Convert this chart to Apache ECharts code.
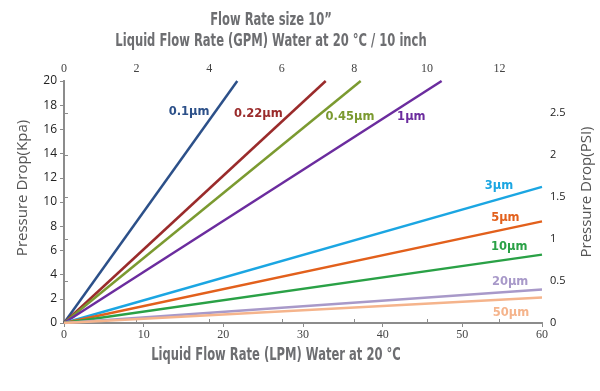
<!DOCTYPE html>
<html>
<head>
<meta charset="utf-8">
<script src="https://cdn.jsdelivr.net/npm/echarts@6/dist/echarts.min.js"></script>
<style>html,body{margin:0;padding:0;background:#fff}#c{width:600px;height:391px}</style>
</head>
<body>
<div id="c"></div>
<script>
// Filter grades
var names = ['0.1μm','0.22μm','0.45μm','1μm','3μm','5μm','10μm','20μm','50μm'];
// End point of each straight line [LPM, kPa]; all start at origin
var endLPM = [21.75, 32.85, 37.24, 47.4, 60, 60, 60, 60, 60];
var endKPa = [20, 20, 20, 20, 11.25, 8.4, 5.65, 2.76, 2.1];
// Label anchor positions in data units [LPM, kPa]
var labelLPM = [15.7, 24.4, 35.9, 43.6, 54.6, 55.4, 55.9, 56.0, 56.1];
var labelKPa = [17.4, 17.25, 17.0, 17.0, 11.3, 8.66, 6.26, 3.36, 0.8];
var colors = ['#2c5089','#9a2b2b','#7b9a30','#6b2c9e','#1ba6e2','#e2601c','#2aa146','#a899c9','#f5b48c'];
// Axis ranges
var lpmMax = 60, lpmStep = 10;
var gpmMax = 13.17, gpmStep = 2;
var kpaMax = 20, kpaStep = 2;
var psiMax = 2.884, psiStep = 0.5;
var titleLines = ['Flow Rate size 10”', 'Liquid Flow Rate (GPM) Water at 20 °C / 10 inch'];
var bottomTitle = 'Liquid Flow Rate (LPM) Water at 20 °C';

var axisGrey = '#8c8c8c';
var titleFont = 'bold 17px "DejaVu Sans", sans-serif';
var series = names.map(function(n, i){
  return {
    name: n, type: 'line', xAxisIndex: 0, yAxisIndex: 0,
    data: [[0,0],[endLPM[i], endKPa[i]]],
    symbol: 'none', clip: true,
    lineStyle: {color: colors[i], width: 2.5},
    markPoint: {
      symbol: 'circle', symbolSize: 0,
      data: [{coord: [labelLPM[i], labelKPa[i]]}],
      label: {show: true, position: 'inside', formatter: n, color: colors[i],
        fontFamily: 'DejaVu Sans', fontWeight: 'bold', fontSize: 11.5}
    }
  };
});
// dummy series to activate secondary axes
series.push({type:'line', xAxisIndex:1, yAxisIndex:1, data:[], symbol:'none'});

function titleText(txt, x, y){
  return {type:'text', x:x, y:y, scaleX:0.68, silent:true,
    style:{text:txt, x:0, y:0, textAlign:'center', textVerticalAlign:'middle', font:titleFont, fill:'#6d6e71'}};
}

var chart = echarts.init(document.getElementById('c'), null, {renderer:'canvas'});
chart.setOption({
  animation: false,
  backgroundColor: '#fff',
  graphic: [
    titleText(titleLines[0], 271, 21),
    titleText(titleLines[1], 271, 42),
    titleText(bottomTitle, 276, 356)
  ],
  grid: {left: 64, right: 58, top: 81, bottom: 68, containLabel: false, outerBoundsMode: 'none'},
  xAxis: [
    {type: 'value', position: 'bottom', min: 0, max: lpmMax, interval: lpmStep,
     axisLine: {show: true, lineStyle: {color: axisGrey, width: 2}},
     axisTick: {show: true, length: 4, lineStyle: {color: axisGrey}},
     splitLine: {show: false},
     axisLabel: {fontFamily: 'Liberation Serif, serif', fontSize: 12, color: '#444', margin: 6}},
    {type: 'value', position: 'top', min: 0, max: gpmMax, interval: gpmStep,
     axisLine: {show: true, lineStyle: {color: axisGrey, width: 2}},
     axisTick: {show: true, length: 4, lineStyle: {color: axisGrey}},
     splitLine: {show: false},
     axisLabel: {fontFamily: 'Liberation Serif, serif', fontSize: 12, color: '#444', margin: 6, showMaxLabel: false}}
  ],
  yAxis: [
    {type: 'value', position: 'left', min: 0, max: kpaMax, interval: kpaStep,
     name: 'Pressure Drop(Kpa)', nameLocation: 'middle', nameRotate: 90, nameGap: 34,
     nameTextStyle: {fontFamily: 'Open Sans, sans-serif', fontSize: 15, color: '#555', padding: [0,0,0,28]},
     axisLine: {show: true, lineStyle: {color: axisGrey, width: 2}},
     axisTick: {show: true, length: 4, lineStyle: {color: axisGrey}},
     splitLine: {show: false},
     axisLabel: {fontFamily: 'Open Sans, sans-serif', fontSize: 12, color: '#222', margin: 7}},
    {type: 'value', position: 'right', min: 0, max: psiMax, interval: psiStep,
     name: 'Pressure Drop(PSI)', nameLocation: 'middle', nameRotate: 90, nameGap: 37,
     nameTextStyle: {fontFamily: 'Open Sans, sans-serif', fontSize: 15, color: '#555', padding: [0,0,0,20]},
     axisLine: {show: true, lineStyle: {color: axisGrey, width: 2}},
     axisTick: {show: true, length: 4, lineStyle: {color: axisGrey}},
     splitLine: {show: false},
     axisLabel: {fontFamily: 'Open Sans, sans-serif', fontSize: 11, color: '#222', margin: 8, showMaxLabel: false}}
  ],
  series: series
});
</script>
</body>
</html>
